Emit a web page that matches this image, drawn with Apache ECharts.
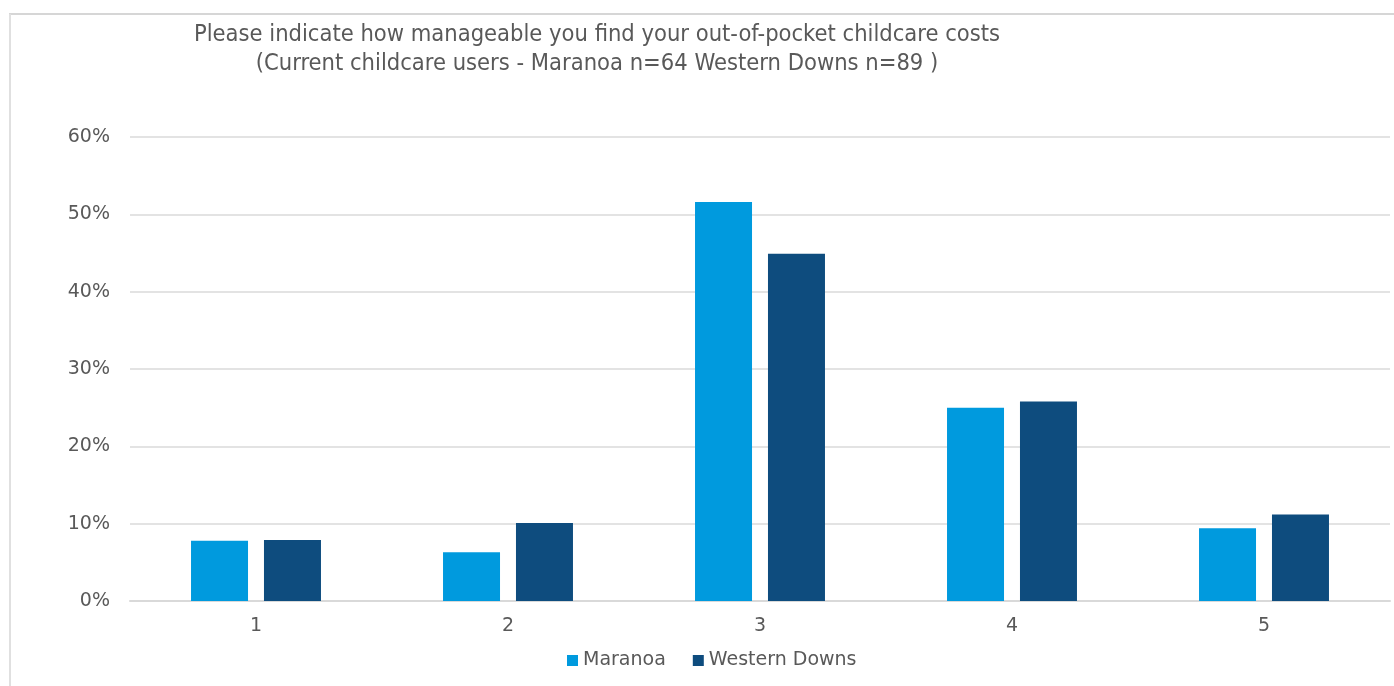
<!DOCTYPE html>
<html>
<head>
<meta charset="utf-8">
<title>Out-of-pocket childcare costs</title>
<script src="https://cdn.jsdelivr.net/npm/echarts@6/dist/echarts.min.js"></script>
<style>
  html, body { margin: 0; padding: 0; background: #ffffff; }
  #chart { width: 1394px; height: 686px; }
</style>
</head>
<body>
<div id="chart"></div>
<script>
// Rating scale (1 = least manageable, 5 = most manageable)
const categories = ['1', '2', '3', '4', '5'];
// Share of respondents per rating, in percent
const maranoa = [7.8, 6.3, 51.6, 25.0, 9.4];
const westernDowns = [7.9, 10.1, 44.9, 25.8, 11.2];
const seriesNames = ['Maranoa', 'Western Downs'];
const titleLines = [
  'Please indicate how manageable you find your out-of-pocket childcare costs',
  '(Current childcare users - Maranoa n=64 Western Downs n=89 )'
];

const textGrey = '#595959';
const labelFont = '"DejaVu Sans", sans-serif';
const titleFont = '"DejaVu Sans Condensed", "DejaVu Sans", sans-serif';

const chart = echarts.init(document.getElementById('chart'), null, { renderer: 'canvas' });

chart.setOption({
  backgroundColor: '#ffffff',
  animation: false,
  title: {
    text: titleLines.join('\n'),
    left: 592,
    top: 15,
    textAlign: 'center',
    textStyle: {
      fontFamily: titleFont,
      fontWeight: 'normal',
      fontSize: 23.5,
      lineHeight: 29,
      color: textGrey
    }
  },
  grid: {
    left: 130,
    right: 4,
    top: 137,
    bottom: 85
  },
  legend: {
    data: seriesNames,
    left: 562,
    top: 646,
    itemWidth: 11,
    itemHeight: 11,
    itemGap: 27,
    icon: 'rect',
    textStyle: {
      fontFamily: labelFont,
      fontSize: 19,
      color: textGrey
    }
  },
  xAxis: {
    type: 'category',
    data: categories,
    axisLine: { show: true, lineStyle: { color: '#d9d9d9', width: 2 } },
    axisTick: { show: false },
    axisLabel: {
      fontFamily: labelFont,
      fontSize: 19,
      color: textGrey,
      margin: 16
    }
  },
  yAxis: {
    type: 'value',
    min: 0,
    max: 60,
    interval: 10,
    axisLine: { show: false },
    axisTick: { show: false },
    splitLine: { lineStyle: { color: '#e3e3e3', width: 2 } },
    axisLabel: {
      fontFamily: labelFont,
      fontSize: 19,
      color: textGrey,
      margin: 20,
      formatter: '{value}%'
    }
  },
  series: [
    {
      name: seriesNames[0],
      type: 'bar',
      data: maranoa,
      barWidth: 57,
      barGap: '28%',
      itemStyle: { color: '#009ade' }
    },
    {
      name: seriesNames[1],
      type: 'bar',
      data: westernDowns,
      barWidth: 57,
      itemStyle: { color: '#0e4c7e' }
    }
  ],
  graphic: [
    {
      type: 'line',
      shape: { x1: 9, y1: 14, x2: 1394, y2: 14 },
      style: { stroke: '#d6d6d6', lineWidth: 2 },
      silent: true
    },
    {
      type: 'line',
      shape: { x1: 10, y1: 14, x2: 10, y2: 686 },
      style: { stroke: '#e0e0e0', lineWidth: 2 },
      silent: true
    }
  ]
});
</script>
</body>
</html>
